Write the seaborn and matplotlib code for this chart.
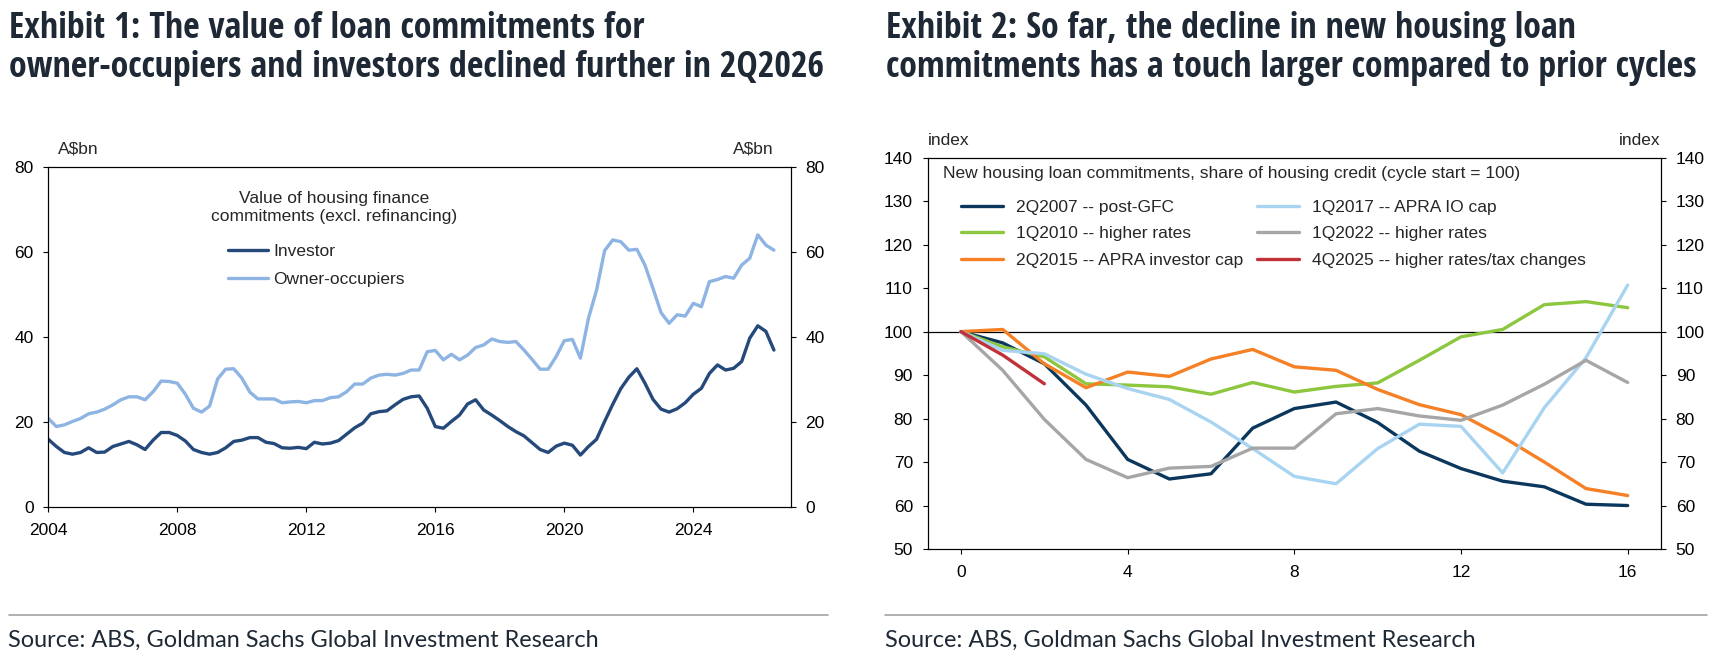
import numpy as np
import pandas as pd
import matplotlib
matplotlib.use("Agg")
import matplotlib.pyplot as plt
import seaborn as sns
from matplotlib import font_manager

sns.set_theme(style="white")

available = {f.name for f in font_manager.fontManager.ttflist}


def pick(*names):
    for n in names:
        if n in available:
            return n
    return "DejaVu Sans"


BODY = pick("Liberation Sans", "Arial", "DejaVu Sans")
NARROW = pick("Liberation Sans Narrow", "Open Sans Condensed", "DejaVu Sans Condensed",
              "Roboto Condensed", BODY)
SOURCE = pick("Lato", "Noto Sans", BODY)
plt.rcParams["font.family"] = [BODY, "DejaVu Sans"]
plt.rcParams.update({
    "axes.edgecolor": "black", "axes.linewidth": 0.8,
    "xtick.bottom": True, "ytick.left": True,
    "xtick.direction": "out", "ytick.direction": "out",
    "xtick.major.size": 3.6, "ytick.major.size": 3.6,
    "xtick.major.width": 0.8, "ytick.major.width": 0.8,
    "xtick.color": "black", "ytick.color": "black",
    "xtick.labelsize": 12.5, "ytick.labelsize": 12.5,
    "xtick.major.pad": 8, "ytick.major.pad": 7,
})

# ---------------- Exhibit 1 data (quarterly, A$bn) ----------------
quarters = pd.period_range("2003Q4", "2026Q2", freq="Q")
investor = [
    16.0, 14.3, 12.9, 12.5, 12.9, 14.0, 12.9, 13.0, 14.3, 14.9,
    15.5, 14.7, 13.6, 15.8, 17.6, 17.6, 16.9, 15.6, 13.6, 12.9,
    12.5, 12.9, 14.0, 15.5, 15.8, 16.4, 16.4, 15.3, 15.0, 14.0,
    13.9, 14.1, 13.8, 15.3, 14.9, 15.1, 15.7, 17.2, 18.7, 19.8,
    22.0, 22.5, 22.7, 24.1, 25.4, 26.0, 26.2, 23.3, 19.0, 18.6,
    20.2, 21.7, 24.3, 25.3, 22.9, 21.7, 20.4, 19.0, 17.8, 16.8,
    15.2, 13.6, 12.9, 14.4, 15.1, 14.6, 12.3, 14.3, 16.0, 20.2,
    24.2, 27.9, 30.6, 32.6, 29.2, 25.4, 23.1, 22.4, 23.2, 24.6,
    26.6, 28.0, 31.5, 33.5, 32.3, 32.7, 34.3, 39.8, 42.7, 41.4,
    37.0,
]
owner_occ = [
    20.9, 19.0, 19.4, 20.2, 20.9, 22.0, 22.4, 23.1, 24.1, 25.3,
    26.0, 26.0, 25.3, 27.2, 29.7, 29.6, 29.2, 26.6, 23.3, 22.4,
    23.8, 30.2, 32.5, 32.6, 30.4, 27.1, 25.5, 25.5, 25.5, 24.6,
    24.8, 24.9, 24.6, 25.1, 25.1, 25.8, 26.0, 27.2, 29.0, 29.0,
    30.4, 31.1, 31.3, 31.1, 31.5, 32.3, 32.3, 36.6, 36.9, 34.7,
    36.0, 34.7, 35.8, 37.6, 38.2, 39.6, 39.0, 38.8, 39.0, 37.0,
    34.8, 32.5, 32.5, 35.5, 39.2, 39.5, 35.1, 44.5, 51.1, 60.4,
    62.9, 62.5, 60.5, 60.7, 57.0, 51.5, 45.8, 43.3, 45.3, 45.0,
    48.0, 47.2, 53.1, 53.6, 54.3, 53.9, 57.0, 58.6, 64.1, 61.7,
    60.5,
]
ex1_series = ["Investor", "Owner-occupiers"]
ex1_colors = ["#24497A", "#8DB4E2"]
ex1_yticks = [0, 20, 40, 60, 80]
ex1_xticks = [2004, 2008, 2012, 2016, 2020, 2024]

# ---------------- Exhibit 2 data (index, cycle start = 100) ----------------
cycle_labels = [
    "2Q2007 -- post-GFC",
    "1Q2010 -- higher rates",
    "2Q2015 -- APRA investor cap",
    "1Q2017 -- APRA IO cap",
    "1Q2022 -- higher rates",
    "4Q2025 -- higher rates/tax changes",
]
cycle_2007 = [100, 97.4, 92.6, 83.1, 70.6, 66.1, 67.3, 77.8, 82.3, 83.8, 79.1, 72.5, 68.5, 65.6, 64.3, 60.3, 60.0]
cycle_2010 = [100, 96.5, 94.2, 88.0, 87.7, 87.3, 85.6, 88.3, 86.1, 87.4, 88.2, 93.4, 98.8, 100.5, 106.2, 106.9, 105.5]
cycle_2015 = [100, 100.5, 92.6, 87.1, 90.7, 89.7, 93.7, 95.9, 91.9, 91.1, 86.7, 83.2, 80.9, 75.8, 70.0, 63.9, 62.3]
cycle_2017 = [100, 95.7, 94.9, 90.2, 86.9, 84.4, 79.2, 73.1, 66.7, 65.0, 73.1, 78.7, 78.2, 67.5, 82.5, 94.0, 110.7]
cycle_2022 = [100, 91.1, 79.8, 70.6, 66.4, 68.6, 69.0, 73.2, 73.2, 81.1, 82.3, 80.6, 79.6, 83.1, 87.9, 93.4, 88.3]
cycle_2025 = [100, 94.6, 88.0]
ex2_colors = ["#0C375C", "#8DC63F", "#F58025", "#A8D4F2", "#A6A6A6", "#C0313A"]
ex2_yticks = [50, 60, 70, 80, 90, 100, 110, 120, 130, 140]
ex2_xticks = [0, 4, 8, 12, 16]

# ---------------- tidy frames ----------------
qyear = quarters.year + quarters.quarter / 4
df1 = pd.concat([
    pd.DataFrame({"year": qyear, "value": investor, "series": ex1_series[0]}),
    pd.DataFrame({"year": qyear, "value": owner_occ, "series": ex1_series[1]}),
], ignore_index=True)

cycles = [cycle_2007, cycle_2010, cycle_2015, cycle_2017, cycle_2022, cycle_2025]
df2 = pd.concat([
    pd.DataFrame({"quarter": range(len(vals)), "index": vals, "cycle": lab})
    for lab, vals in zip(cycle_labels, cycles)
], ignore_index=True)

# ---------------- figure ----------------
W, H = 1718, 657
fig = plt.figure(figsize=(W / 100, H / 100), dpi=100)


def fx(px):
    return px / W


def fy(px):
    return 1 - px / H


ax1 = fig.add_axes([fx(48.3), fy(507.3), fx(790.7 - 48.3), (507.3 - 167.3) / H])
ax2 = fig.add_axes([fx(927.7), fy(549), fx(1661 - 927.7), (549 - 157.7) / H])

# Exhibit 1
sns.lineplot(data=df1, x="year", y="value", hue="series", hue_order=ex1_series,
             palette=dict(zip(ex1_series, ex1_colors)), linewidth=2.4,
             estimator=None, sort=False, ax=ax1)
ax1.set_xlim(2004, 2027.02)
ax1.set_ylim(0, 80)
ax1.set_xticks(ex1_xticks)
ax1.set_yticks(ex1_yticks)
ax1.set_xlabel("")
ax1.set_ylabel("")
ax1r = ax1.twinx()
ax1r.set_ylim(0, 80)
ax1r.set_yticks(ex1_yticks)
ax1r.tick_params(axis="y", right=True, direction="out", length=3.6, pad=7)
ax1.text(0.013, 1.053, "A$bn", transform=ax1.transAxes, ha="left", va="center", fontsize=12.5)
ax1.text(0.9775, 1.053, "A$bn", transform=ax1.transAxes, ha="right", va="center", fontsize=12.5)
ax1.text(0.385, 0.882, "Value of housing finance\ncommitments (excl. refinancing)",
         transform=ax1.transAxes, ha="center", va="center", fontsize=12.5)
sns.move_legend(ax1, "upper left", bbox_to_anchor=(0.242, 0.775), frameon=False, title=None,
                fontsize=12.5, handlelength=2.3, handletextpad=0.3, labelspacing=0.75,
                borderpad=0, borderaxespad=0)

# Exhibit 2
ax2.axhline(100, color="black", linewidth=0.9, zorder=1)
sns.lineplot(data=df2, x="quarter", y="index", hue="cycle", hue_order=cycle_labels,
             palette=dict(zip(cycle_labels, ex2_colors)), linewidth=2.4,
             estimator=None, sort=False, ax=ax2)
ax2.set_xlim(-0.8, 16.8)
ax2.set_ylim(50, 140)
ax2.set_xticks(ex2_xticks)
ax2.set_yticks(ex2_yticks)
ax2.set_xlabel("")
ax2.set_ylabel("")
ax2r = ax2.twinx()
ax2r.set_ylim(50, 140)
ax2r.set_yticks(ex2_yticks)
ax2r.tick_params(axis="y", right=True, direction="out", length=3.6, pad=7)
ax2.text(0.0, 1.045, "index", transform=ax2.transAxes, ha="left", va="center", fontsize=12.5)
ax2.text(1.0, 1.045, "index", transform=ax2.transAxes, ha="right", va="center", fontsize=12.5)
ax2.text(0.0205, 0.960,
         "New housing loan commitments, share of housing credit (cycle start = 100)",
         transform=ax2.transAxes, ha="left", va="center", fontsize=12.5)
sns.move_legend(ax2, "upper left", bbox_to_anchor=(0.046, 0.893), ncol=2, frameon=False,
                title=None, fontsize=12.5, handlelength=2.4, handletextpad=0.75,
                columnspacing=0.8, labelspacing=0.65, borderpad=0, borderaxespad=0)

for a in (ax1, ax1r, ax2, ax2r):
    for s in a.spines.values():
        s.set_visible(True)
        s.set_color("black")
        s.set_linewidth(0.8)

# ---------------- titles, rules, sources ----------------
renderer = fig.canvas.get_renderer()


def fit_width(txt, target_px):
    w = txt.get_window_extent(renderer).width
    txt.set_fontsize(txt.get_fontsize() * target_px / w)
    return txt.get_fontsize()


title_kw = dict(fontweight="bold", color="#1E2935", family=[NARROW, "DejaVu Sans"], va="baseline")
t = fig.text(fx(9), fy(77), "owner-occupiers and investors declined further in 2Q2026",
             fontsize=20, **title_kw)
tsize = fit_width(t, 816)
fig.text(fx(9), fy(38), "Exhibit 1: The value of loan commitments for", fontsize=tsize, **title_kw)
fig.text(fx(886), fy(38), "Exhibit 2: So far, the decline in new housing loan", fontsize=tsize, **title_kw)
fig.text(fx(886), fy(77), "commitments has a touch larger compared to prior cycles", fontsize=tsize, **title_kw)

fig.add_artist(plt.Line2D([fx(9), fx(828)], [fy(614.5), fy(614.5)], color="#A3A3A3", linewidth=1.2))
fig.add_artist(plt.Line2D([fx(885), fx(1707)], [fy(614.5), fy(614.5)], color="#A3A3A3", linewidth=1.2))

src_kw = dict(color="#1E2935", fontweight="normal", family=[SOURCE, "DejaVu Sans"], va="baseline")
s1 = fig.text(fx(8.5), fy(646.5), "Source: ABS, Goldman Sachs Global Investment Research", fontsize=15, **src_kw)
ssize = fit_width(s1, 594)
fig.text(fx(885), fy(646.5), "Source: ABS, Goldman Sachs Global Investment Research", fontsize=ssize, **src_kw)

fig.savefig("out.png", dpi=100, facecolor="white")
